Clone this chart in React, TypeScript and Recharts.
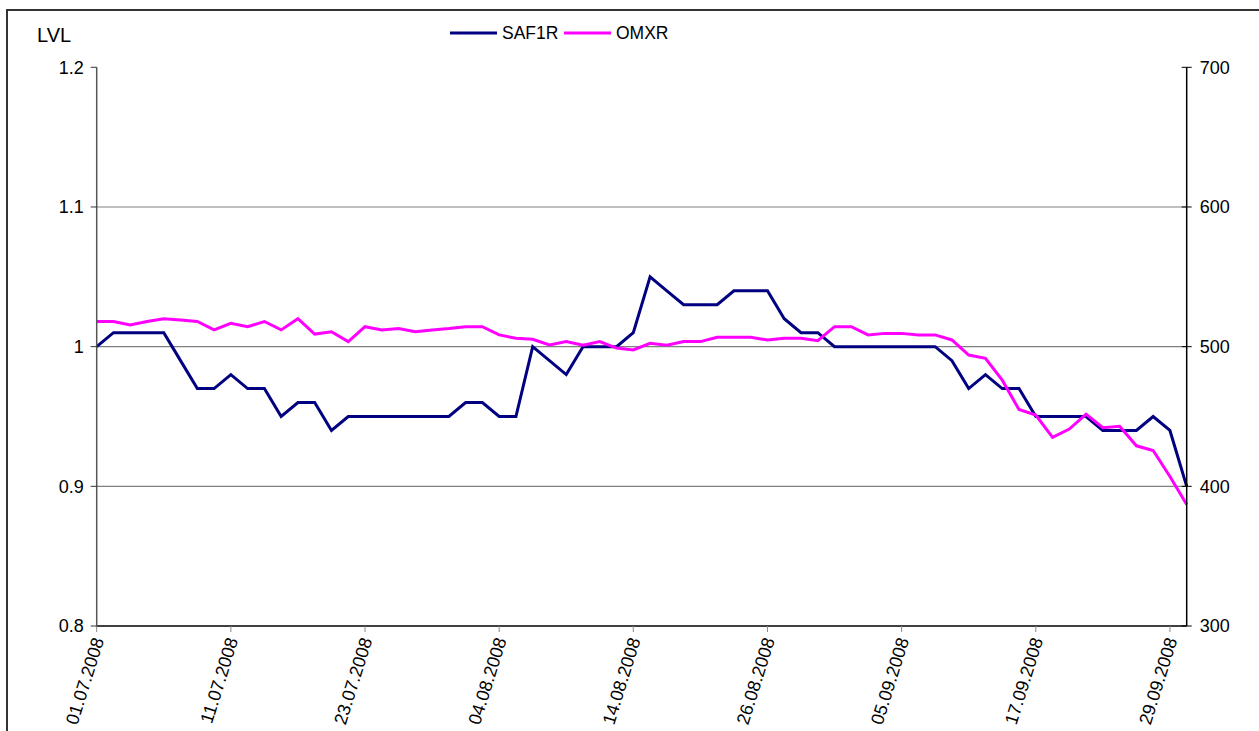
import React from "react";
import { LineChart, Line, XAxis, YAxis, ReferenceLine, Legend } from "recharts";

const dates = [
  "01.07.2008","02.07.2008","03.07.2008","04.07.2008","07.07.2008","08.07.2008","09.07.2008","10.07.2008","11.07.2008",
  "14.07.2008","15.07.2008","16.07.2008","17.07.2008","18.07.2008","21.07.2008","22.07.2008","23.07.2008",
  "24.07.2008","25.07.2008","28.07.2008","29.07.2008","30.07.2008","31.07.2008","01.08.2008","04.08.2008",
  "05.08.2008","06.08.2008","07.08.2008","08.08.2008","11.08.2008","12.08.2008","13.08.2008","14.08.2008",
  "15.08.2008","18.08.2008","19.08.2008","20.08.2008","21.08.2008","22.08.2008","25.08.2008","26.08.2008",
  "27.08.2008","28.08.2008","29.08.2008","01.09.2008","02.09.2008","03.09.2008","04.09.2008","05.09.2008",
  "08.09.2008","09.09.2008","10.09.2008","11.09.2008","12.09.2008","15.09.2008","16.09.2008","17.09.2008",
  "18.09.2008","19.09.2008","22.09.2008","23.09.2008","24.09.2008","25.09.2008","26.09.2008","29.09.2008",
  "30.09.2008",
];

const saf1r = [
  1.0, 1.01, 1.01, 1.01, 1.01, 0.99, 0.97, 0.97, 0.98, 0.97,
  0.97, 0.95, 0.96, 0.96, 0.94, 0.95, 0.95, 0.95, 0.95, 0.95,
  0.95, 0.95, 0.96, 0.96, 0.95, 0.95, 1.0, 0.99, 0.98, 1.0,
  1.0, 1.0, 1.01, 1.05, 1.04, 1.03, 1.03, 1.03, 1.04, 1.04,
  1.04, 1.02, 1.01, 1.01, 1.0, 1.0, 1.0, 1.0, 1.0, 1.0,
  1.0, 0.99, 0.97, 0.98, 0.97, 0.97, 0.95, 0.95, 0.95, 0.95,
  0.94, 0.94, 0.94, 0.95, 0.94, 0.9,
];

const omxr = [
  518, 518, 515.5, 518, 520, 519, 518, 512, 516.7, 514.3,
  518, 512, 520, 509, 510.7, 503.6, 514.3, 512, 513, 510.7,
  512, 513, 514.3, 514.3, 508.4, 506, 505.3, 501.2, 503.6, 501,
  503.6, 499, 497.6, 502.4, 501, 503.6, 503.6, 506.7, 506.7, 506.7,
  504.8, 506, 506, 504.3, 514.3, 514.3, 508.4, 509.5, 509.5, 508.4,
  508.4, 504.8, 494, 491.7, 476, 455, 451, 435, 441, 451.7,
  442, 443, 429, 425.7, 407, 387,
];

const leftTicks = [0.8, 0.9, 1.0, 1.1, 1.2];
const rightTicks = [300, 400, 500, 600, 700];
const gridValues = [0.9, 1.0, 1.1];

const seriesNames = ["SAF1R", "OMXR"];
const seriesColors = ["#000080", "#FF00FF"];

const data = dates.map((d, i) => ({ date: d, SAF1R: saf1r[i], OMXR: omxr[i] }));

const FONT = "'Liberation Sans', Arial, sans-serif";

const DateTick = (props: any) => {
  const { x, y, payload } = props;
  const ax = x + 1.5;
  const ay = y + 6;
  return (
    <text
      x={ax}
      y={ay}
      dy="0.35em"
      textAnchor="end"
      fontSize={18}
      fontFamily={FONT}
      fill="#000"
      transform={`rotate(-72.6 ${ax} ${ay})`}
    >
      {payload.value}
    </text>
  );
};

const RightTick = (props: any) => {
  const { x, y, payload } = props;
  return (
    <g>
      <line x1={x - 5} x2={x + 5} y1={y} y2={y} stroke="#000" strokeWidth={1} />
      <text x={x + 13} y={y} dy="0.35em" textAnchor="start" fontSize={18} fontFamily={FONT} fill="#000">
        {payload.value}
      </text>
    </g>
  );
};

const LegendContent = () => (
  <div style={{ position: "relative", width: 260, height: 30, fontFamily: FONT, fontSize: 17.5 }}>
    {seriesNames.map((n, i) => (
      <div key={n} style={{ position: "absolute", left: i === 0 ? 0 : 114, top: 0, display: "flex", alignItems: "center", height: 30 }}>
        <svg width={47} height={6} style={{ display: "block" }}>
          <line x1={0} x2={47} y1={3} y2={3} stroke={seriesColors[i]} strokeWidth={3} />
        </svg>
        <span style={{ marginLeft: 5, color: "#000" }}>{n}</span>
      </div>
    ))}
  </div>
);

const LvlLabel = (props: any) => {
  const { viewBox } = props;
  return (
    <text x={viewBox.x + 37} y={viewBox.y - 25} fontSize={20} fontFamily={FONT} fill="#000">
      LVL
    </text>
  );
};

export default function App() {
  return (
    <div
      style={{
        position: "absolute",
        left: 0,
        top: 0,
        width: 1259,
        height: 731,
        background: "#fff",
        overflow: "hidden",
        fontFamily: FONT,
      }}
    >
      <div
        style={{
          position: "absolute",
          left: 6,
          top: 9,
          width: 1400,
          height: 900,
          border: "2px solid #333",
          boxSizing: "border-box",
        }}
      />
      <div style={{ position: "absolute", left: 0, top: 0 }}>
        <LineChart
          width={1259}
          height={731}
          data={data}
          margin={{ top: 67.3, right: 12.3, bottom: 15, left: 0 }}
        >
          <XAxis
            dataKey="date"
            interval={7}
            tickSize={6}
            tickMargin={0}
            tick={<DateTick />}
            axisLine={{ stroke: "#000", strokeWidth: 1.5 }}
            tickLine={{ stroke: "#888" }}
            height={60}
          />
          <YAxis
            yAxisId="left"
            width={96.7}
            domain={[0.8, 1.2]}
            ticks={leftTicks}
            tickFormatter={(v: number) => String(v)}
            tick={{ fontSize: 18, fontFamily: FONT, fill: "#000" }}
            tickSize={6}
            tickMargin={7}
            axisLine={{ stroke: "#555", strokeWidth: 1.5 }}
            tickLine={{ stroke: "#333" }}
            label={<LvlLabel />}
          />
          <YAxis
            yAxisId="right"
            orientation="right"
            width={60}
            domain={[300, 700]}
            ticks={rightTicks}
            tick={<RightTick />}
            tickSize={0}
            tickMargin={0}
            axisLine={{ stroke: "#000", strokeWidth: 1.5 }}
            tickLine={false}
          />
          {gridValues.map((v) => (
            <ReferenceLine key={v} yAxisId="left" y={v} stroke="#808080" strokeWidth={1.2} />
          ))}
          <Legend
            content={<LegendContent />}
            wrapperStyle={{ position: "absolute", left: 450, top: 18, width: 260, height: 30 }}
          />
          <Line
            yAxisId="left"
            type="linear"
            dataKey="SAF1R"
            stroke={seriesColors[0]}
            strokeWidth={3}
            dot={false}
            isAnimationActive={false}
          />
          <Line
            yAxisId="right"
            type="linear"
            dataKey="OMXR"
            stroke={seriesColors[1]}
            strokeWidth={3}
            dot={false}
            isAnimationActive={false}
          />
        </LineChart>
      </div>
    </div>
  );
}
